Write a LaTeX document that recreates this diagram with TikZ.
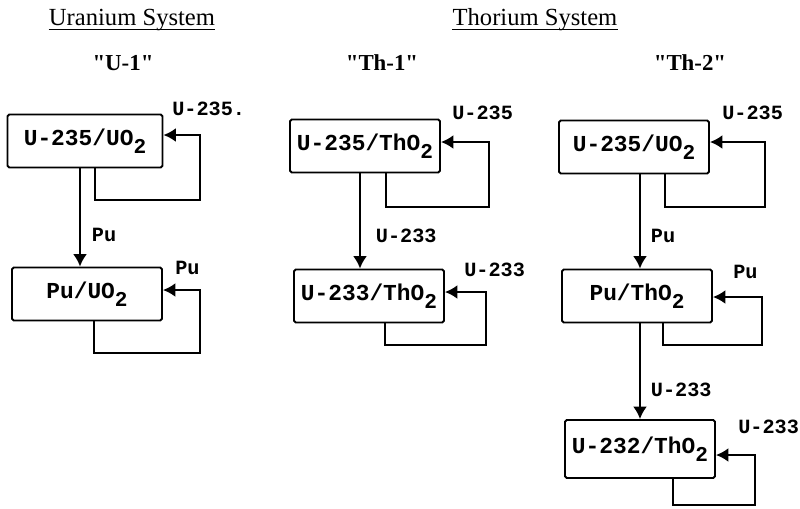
\documentclass[tikz,border=0pt]{standalone}
\usepackage{fontspec}
\setmainfont{Liberation Serif}
\setmonofont{Liberation Mono}
\usetikzlibrary{arrows.meta}
\newcommand{\lowsub}[1]{\raisebox{-0.7ex}{\fontsize{12}{12}\selectfont #1}}
\tikzset{
  fuel/.style={draw, line width=1.1pt, rounded corners=1pt, minimum width=30mm,
    minimum height=10.6mm, inner sep=0pt, font=\ttfamily\bfseries\fontsize{13}{15}\selectfont},
  flow/.style={line width=1.1pt, -{Latex[length=2.5mm,width=2.8mm]}},
  lbl/.style={font=\ttfamily\bfseries\fontsize{11.5}{13}\selectfont, inner sep=0pt},
  head/.style={font=\fontsize{14}{16}\selectfont, inner sep=0pt},
  sysname/.style={font=\bfseries\fontsize{13}{15}\selectfont, inner sep=0pt}
}
\begin{document}
\begin{tikzpicture}[x=0.2mm, y=-0.2mm]
\useasboundingbox (0,0) rectangle (800,508);
% headings
\node[head, anchor=base] (uhead) at (132,25) {Uranium System};
\draw[line width=1pt] ([yshift=-0.9mm]uhead.base west) -- ([yshift=-0.9mm]uhead.base east);
\node[head, anchor=base] (thead) at (535,25) {Thorium System};
\draw[line width=1pt] ([yshift=-0.9mm]thead.base west) -- ([yshift=-0.9mm]thead.base east);
\node[sysname] (u1) at (123,63) {\textquotedbl U-1\textquotedbl};
\node[sysname] (th1) at (382,63) {\textquotedbl Th-1\textquotedbl};
\node[sysname] (th2) at (690,63) {\textquotedbl Th-2\textquotedbl};
% U-1
\node[fuel, minimum width=31mm] (u1a) at (85,141) {U-235/UO\lowsub{2}};
\node[fuel] (u1b) at (87,294) {Pu/UO\lowsub{2}};
\draw[flow] (u1a.south -| 80,0) -- node[lbl, pos=0.68, anchor=west, xshift=2.2mm] {Pu} (u1b.north -| 80,0);
\draw[flow] (u1a.south -| 95,0) |- (200,200) |- (u1a.east |- 0,135);
\draw[flow] (u1b.south -| 94,0) |- (200,353) |- (u1b.east |- 0,290);
\node[lbl, anchor=west] (u1in) at (172,109) {U-235.};
\node[lbl, anchor=west] (u1pu) at (175,268) {Pu};
% Th-1
\node[fuel] (t1a) at (365,146) {U-235/ThO\lowsub{2}};
\node[fuel] (t1b) at (369,296) {U-233/ThO\lowsub{2}};
\draw[flow] (t1a.south -| 360,0) -- node[lbl, pos=0.66, anchor=west, xshift=3mm] {U-233} (t1b.north -| 360,0);
\draw[flow] (t1a.south -| 386,0) |- (489,207) |- (t1a.east |- 0,142);
\draw[flow] (t1b.south -| 385,0) |- (486,345) |- (t1b.east |- 0,292);
\node[lbl, anchor=west] (t1in) at (452,113) {U-235};
\node[lbl, anchor=west] (t1re) at (464,270) {U-233};
% Th-2
\node[fuel] (t2a) at (634,147) {U-235/UO\lowsub{2}};
\node[fuel] (t2b) at (637,296) {Pu/ThO\lowsub{2}};
\node[fuel, minimum height=11.6mm] (t2c) at (640,449) {U-232/ThO\lowsub{2}};
\draw[flow] (t2a.south -| 640,0) -- node[lbl, pos=0.65, anchor=west, xshift=2mm] {Pu} (t2b.north -| 640,0);
\draw[flow] (t2b.south -| 640,0) -- node[lbl, pos=0.69, anchor=west, xshift=2mm] {U-233} (t2c.north -| 640,0);
\draw[flow] (t2a.south -| 665,0) |- (765,207) |- (t2a.east |- 0,142);
\draw[flow] (t2b.south -| 663,0) |- (762,345) |- (t2b.east |- 0,297);
\draw[flow] (t2c.south -| 673,0) |- (755,505) |- (t2c.east |- 0,455);
\node[lbl, anchor=west] (t2in) at (722,113) {U-235};
\node[lbl, anchor=west] (t2pu) at (733,272) {Pu};
\node[lbl, anchor=west] (t2re) at (738,427) {U-233};
\end{tikzpicture}
\end{document}
